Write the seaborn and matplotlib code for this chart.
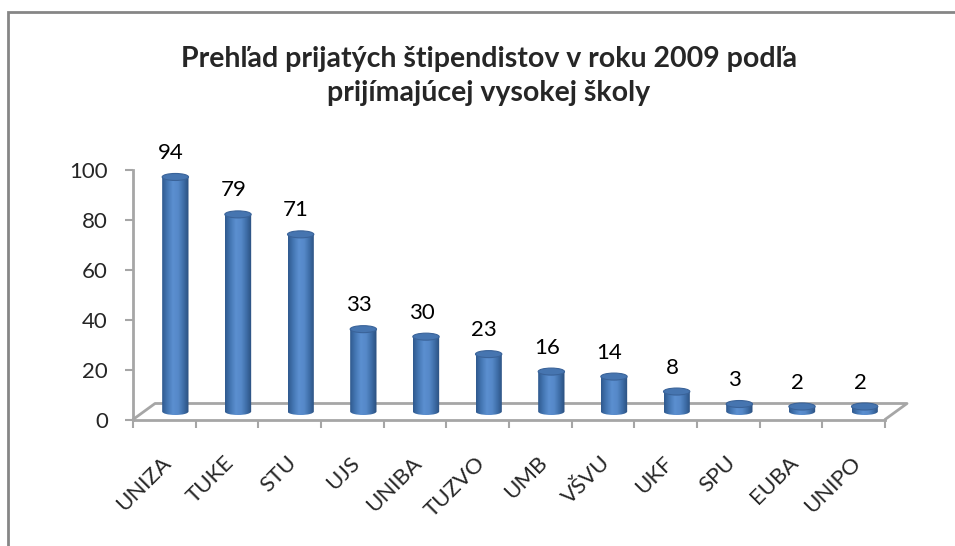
import numpy as np
import pandas as pd
import matplotlib
matplotlib.use("Agg")
import matplotlib.pyplot as plt
import seaborn as sns
from matplotlib.patches import Ellipse, PathPatch, Rectangle
from matplotlib.path import Path
from matplotlib.transforms import ScaledTranslation
from matplotlib.colors import LinearSegmentedColormap

# chart data
schools = ["UNIZA", "TUKE", "STU", "UJS", "UNIBA", "TUZVO", "UMB", "VŠVU", "UKF", "SPU", "EUBA", "UNIPO"]
students = [94, 79, 71, 33, 30, 23, 16, 14, 8, 3, 2, 2]
y_ticks = [0, 20, 40, 60, 80, 100]
title = "Prehľad prijatých štipendistov v roku 2009 podľa\nprijímajúcej vysokej školy"

df = pd.DataFrame({"school": schools, "students": students})

sns.set_style("white")
plt.rcParams["font.family"] = ["Lato", "DejaVu Sans"]

fig = plt.figure(figsize=(9.55, 5.46), dpi=100)
ax = fig.add_axes([133 / 955, 1 - 419.5 / 546, 752 / 955, 249.5 / 546])

sns.barplot(data=df, x="school", y="students", width=0.42, color="#4a7ebb", ax=ax)

# pixel sizes of one data unit (fixed figure layout)
px_x = 752 / 12
px_y = 249.5 / 100
shift = ScaledTranslation(11 / 100, 8 / 100, fig.dpi_scale_trans)
trans = ax.transData + shift
cap_h = 7 / px_y

# cylinder shading
cmap = LinearSegmentedColormap.from_list(
    "cyl", ["#2f5a8e", "#4577b4", "#5b8fd0", "#5689c9", "#3f6ea8", "#2a4f7e"])
grad = np.linspace(0, 1, 64).reshape(1, -1)

for bar in list(ax.patches):
    x0, w, h = bar.get_x(), bar.get_width(), bar.get_height()
    xc = x0 + w / 2
    bar.set_visible(False)
    arc = Path.arc(180, 360)
    arc_v = arc.vertices * [w / 2, cap_h / 2] + [xc, 0]
    verts = [(x0, h)] + list(arc_v) + [(x0 + w, h), (x0, h)]
    codes = [Path.MOVETO, Path.LINETO] + list(arc.codes[1:]) + [Path.LINETO, Path.CLOSEPOLY]
    body = PathPatch(Path(verts, codes), facecolor="none", edgecolor="none", transform=trans)
    ax.add_patch(body)
    im = ax.imshow(grad, cmap=cmap, extent=[x0, x0 + w, -cap_h, h], aspect="auto",
                   transform=trans, zorder=3, interpolation="bilinear")
    im.set_clip_path(body)
    ax.add_patch(Ellipse((xc, h), w, cap_h, facecolor="#4675b0", edgecolor="#3a6399",
                         lw=0.8, transform=trans, zorder=4))

# data labels
for xi, v in enumerate(students):
    ax.annotate(str(v), (xi, v), xytext=(6.5 * 0.72, 26 * 0.72), textcoords="offset points",
                ha="center", va="baseline", fontsize=16, color="black")

# 3d floor
fdx = 22 / px_x
fdy = 16 / px_y
ax.plot([-0.5, -0.5 + fdx, 11.5 + fdx, 11.5], [0, fdy, fdy, 0],
        color="#a6a6a6", lw=2, zorder=1, clip_on=False)

ax.set_xlim(-0.5, 11.5)
ax.set_ylim(0, 100)
ax.set_yticks(y_ticks)
ax.set_xticks(range(len(schools)))
ax.set_xticklabels(schools, rotation=45, ha="right", va="center", rotation_mode="anchor")
ax.set_xticks(np.arange(-0.5, 12, 1), minor=True)
ax.tick_params(axis="x", which="major", length=0, pad=29, labelsize=16, bottom=True)
ax.tick_params(axis="x", which="minor", length=6, width=1.5, color="#a6a6a6", bottom=True)
ax.tick_params(axis="y", length=6, width=1.5, color="#a6a6a6", pad=12, labelsize=16, left=True)
ax.set_xlabel("")
ax.set_ylabel("")
for lbl in ax.get_xticklabels():
    lbl.set_transform(lbl.get_transform() + ScaledTranslation(4 / 100, 0, fig.dpi_scale_trans))

for side in ["top", "right"]:
    ax.spines[side].set_visible(False)
for side in ["left", "bottom"]:
    ax.spines[side].set_color("#a6a6a6")
    ax.spines[side].set_linewidth(2)

fig.text(489 / 955, 1 - 76 / 546, title, ha="center", va="center",
         fontsize=20.5, fontweight="bold", linespacing=1.4)

# chart frame
fig.patches.append(Rectangle((8 / 955, -0.1), 1.2, 1.1 - 12.5 / 546, transform=fig.transFigure,
                             fill=False, edgecolor="#868686", lw=2))

fig.savefig("out.png", dpi=100, facecolor="white")
